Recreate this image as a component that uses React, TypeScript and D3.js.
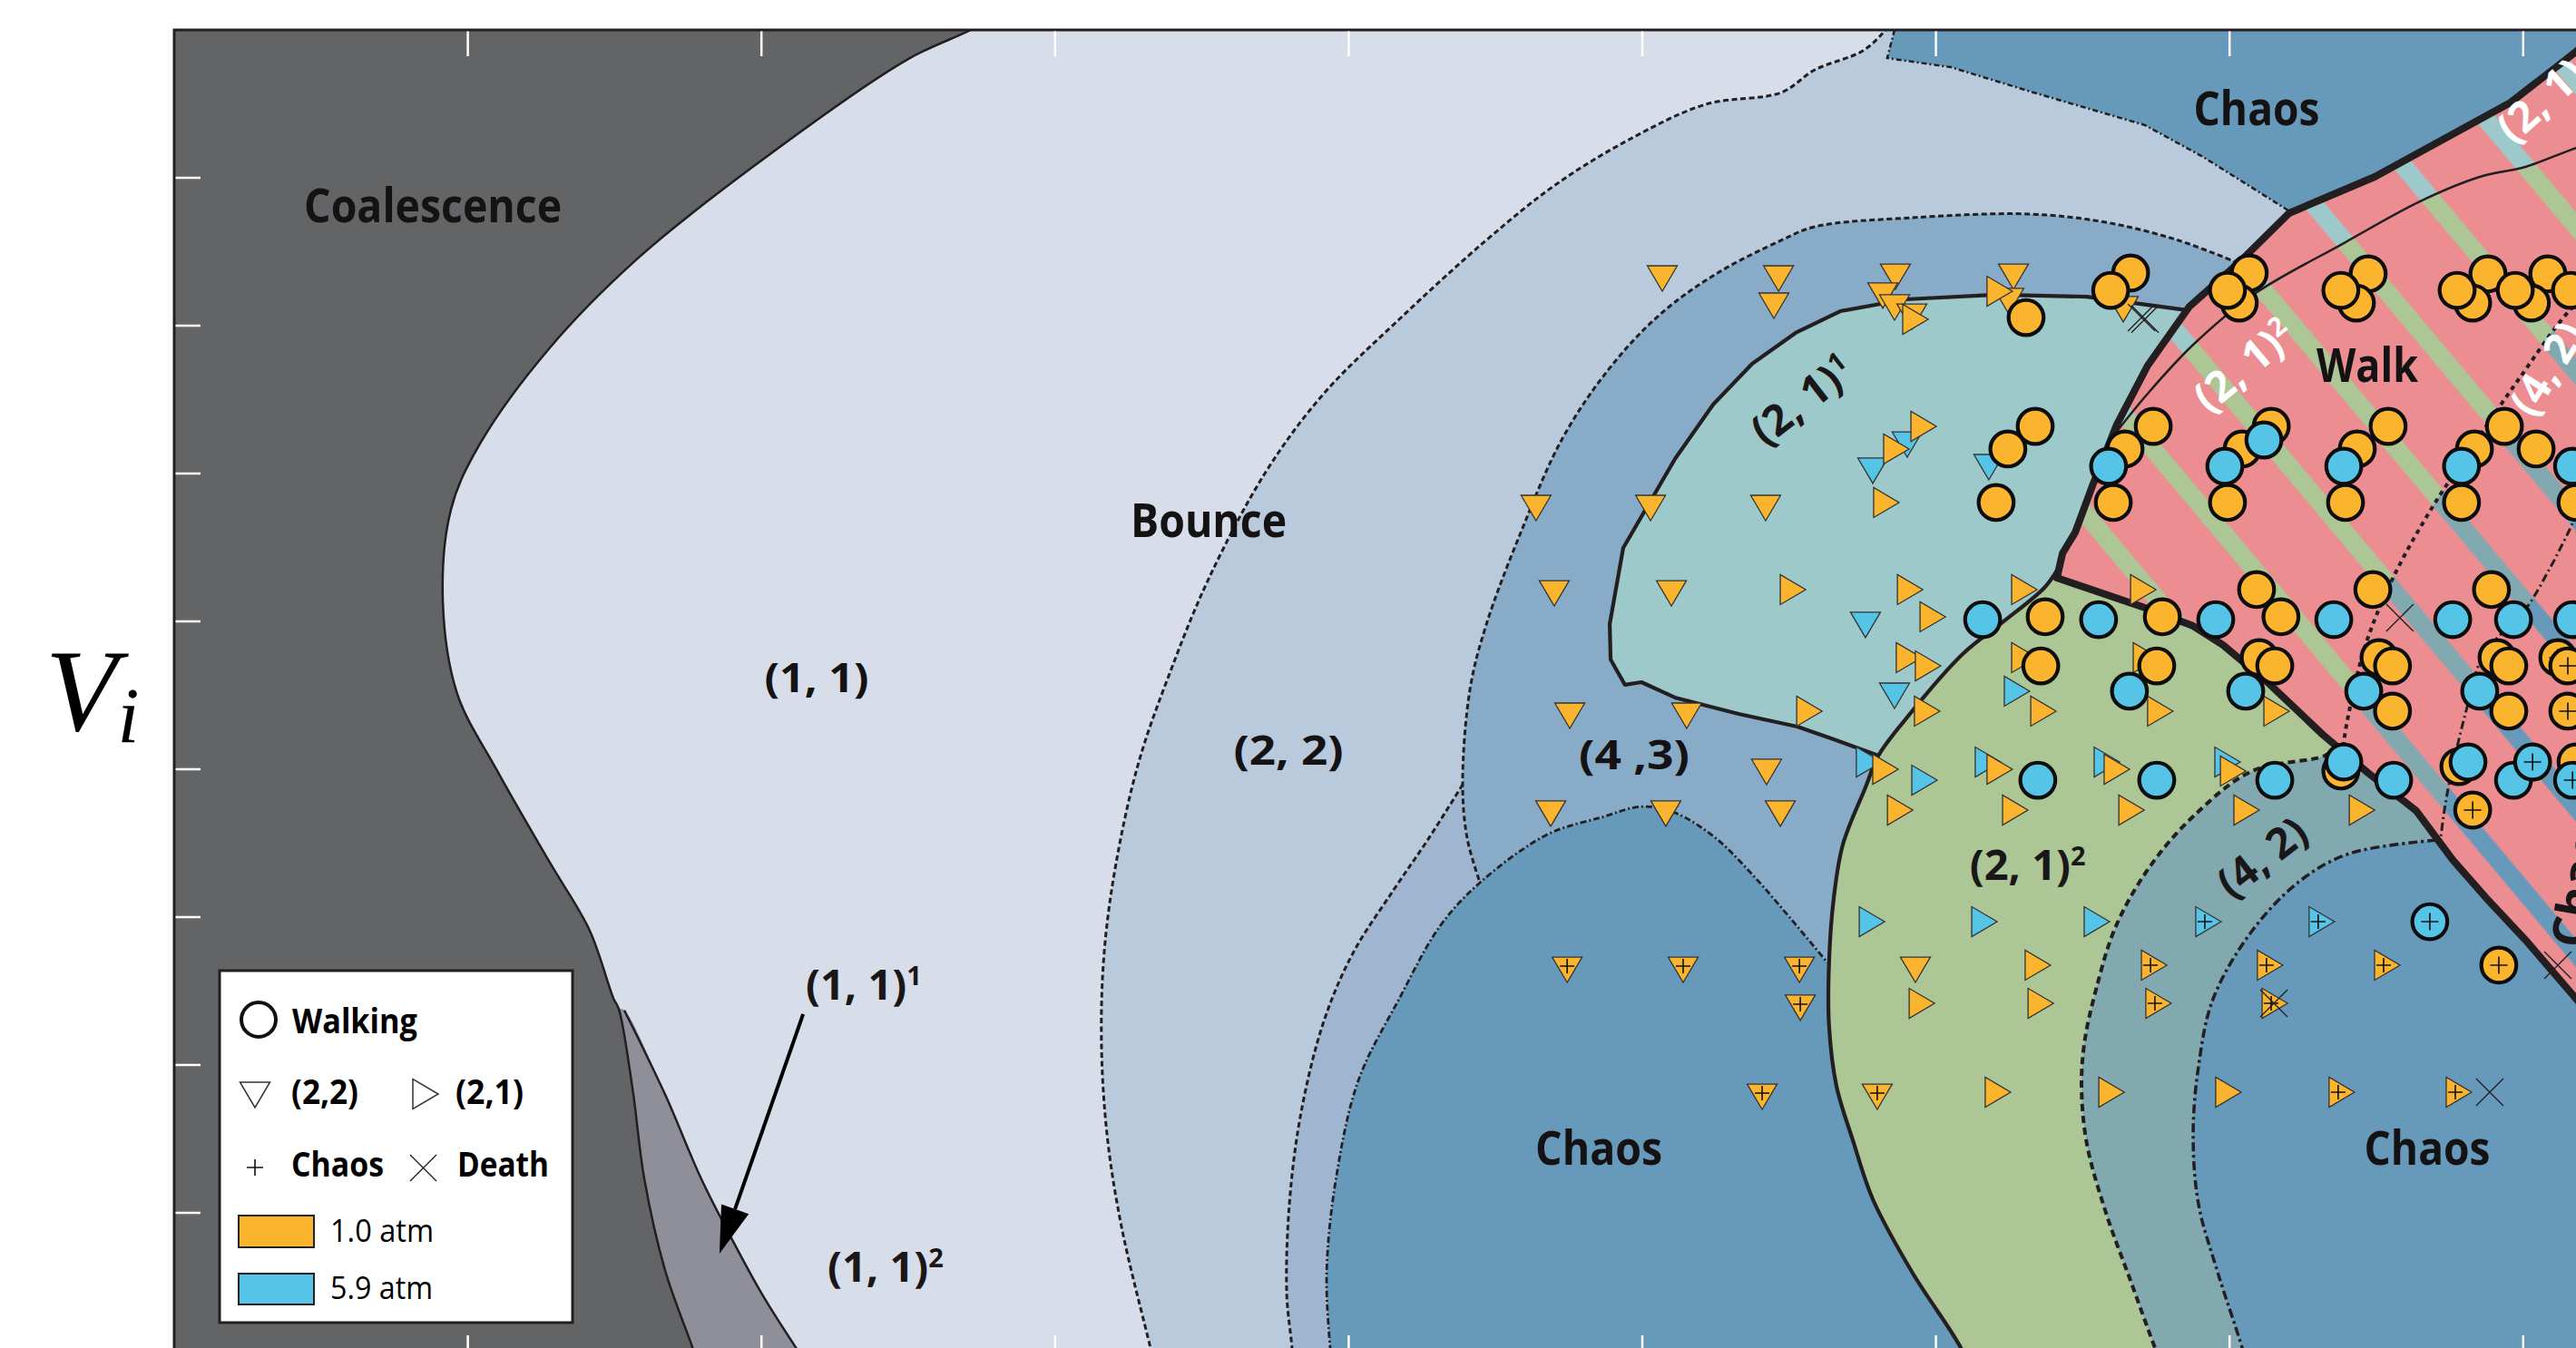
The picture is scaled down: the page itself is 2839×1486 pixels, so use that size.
import React from "react";
import * as d3 from "d3";

type Pt = [number, number];

// ---------------- data (axis units: one x tick = 1, one y tick = 1) ----------------
const xTicks = [1, 2, 3, 4, 5, 6, 7, 8];
const yTicks = [1, 2, 3, 4, 5, 6, 7, 8];

const coalescenceEdge: Pt[] = [[2.85, 9.15], [2.713, 9.0], [2.497, 8.8], [1.968, 8.07], [1.576, 7.45], [1.279, 6.85], [1.041, 6.2], [0.943, 5.76], [0.915, 5.13], [0.964, 4.51], [1.1, 3.99], [1.279, 3.37], [1.415, 2.91], [1.496, 2.45], [1.514, 2.38], [1.561, 1.84], [1.601, 1.23], [1.672, 0.61], [1.765, 0.09], [1.8, -0.12]];
const oneOneSupEdge: Pt[] = [[1.514, 2.38], [1.533, 2.37], [1.672, 1.8], [1.795, 1.23], [1.9, 0.82], [2.002, 0.45], [2.117, 0.09], [2.19, -0.12]];
const twoTwoEdge: Pt[] = [[5.87, 9.12], [5.828, 9.0], [5.751, 8.859], [5.587, 8.73], [5.473, 8.577], [5.216, 8.497], [4.96, 8.264], [4.703, 7.951], [4.468, 7.577], [4.172, 7.043], [3.915, 6.54], [3.718, 6.012], [3.523, 5.288], [3.393, 4.663], [3.285, 4.049], [3.208, 3.368], [3.167, 2.755], [3.158, 2.141], [3.177, 1.528], [3.226, 0.908], [3.325, 0.086], [3.35, -0.12]];
const fourThreeEdge: Pt[] = [[7.03, 7.423], [6.826, 7.577], [6.579, 7.699], [6.313, 7.755], [5.918, 7.73], [5.587, 7.669], [5.473, 7.577], [5.256, 7.356], [5.059, 7.074], [4.883, 6.699], [4.725, 6.227], [4.586, 5.601], [4.468, 4.975], [4.413, 4.54], [4.388, 3.896], [4.404, 3.528], [4.447, 3.233]];
const crescentEdge: Pt[] = [[4.388, 3.896], [4.271, 3.528], [4.153, 3.184], [4.014, 2.755], [3.915, 2.294], [3.838, 1.681], [3.798, 1.061], [3.789, 0.448], [3.807, 0.086], [3.813, -0.12]];
const chaosBlobEdge: Pt[] = [[3.949, -0.12], [3.937, 0.086], [3.925, 0.601], [3.956, 1.221], [4.033, 1.896], [4.172, 2.448], [4.311, 2.939], [4.447, 3.233], [4.676, 3.558], [4.861, 3.675], [5.0, 3.748], [5.111, 3.706], [5.25, 3.534], [5.38, 3.276], [5.501, 3.0], [5.63, 2.693]];
const tealEdge: Pt[] = [[6.86, 7.104], [6.514, 7.196], [6.205, 7.209], [5.896, 7.178], [5.674, 7.098], [5.522, 6.951], [5.374, 6.742], [5.241, 6.466], [5.111, 6.098], [4.935, 5.497], [4.889, 4.982], [4.892, 4.742], [4.941, 4.571], [4.997, 4.589], [5.111, 4.485], [5.328, 4.374], [5.528, 4.288], [5.652, 4.202], [5.804, 4.092]];
const greenEdge: Pt[] = [[6.412, 5.344], [6.369, 5.227], [6.227, 4.994], [6.091, 4.779], [5.896, 4.337], [5.804, 4.092], [5.76, 3.877], [5.683, 3.491], [5.652, 3.129], [5.636, 2.693], [5.636, 2.264], [5.661, 1.859], [5.717, 1.491], [5.785, 1.092], [5.918, 0.601], [6.085, 0.086], [6.128, -0.12]];
const fourTwoEdge: Pt[] = [[7.37, 4.16], [7.324, 4.092], [7.077, 3.988], [6.876, 3.681], [6.727, 3.337], [6.613, 2.939], [6.545, 2.509], [6.505, 2.141], [6.496, 1.834], [6.514, 1.466], [6.579, 1.0], [6.663, 0.54], [6.746, 0.086], [6.786, -0.12]];
const chaosRightEdge: Pt[] = [[7.704, 3.521], [7.407, 3.429], [7.24, 3.245], [7.077, 2.908], [6.944, 2.448], [6.894, 1.988], [6.876, 1.528], [6.894, 1.061], [6.959, 0.601], [7.043, 0.086], [7.07, -0.12]];
const chaosTopEdge: Pt[] = [[5.859, 9.15], [5.859, 9.0], [5.834, 8.81], [6.051, 8.748], [6.332, 8.577], [6.712, 8.356], [6.91, 8.141], [7.2, 7.779]];
const walkEdge: Pt[] = [[8.4, 9.3], [8.18, 8.853], [7.957, 8.509], [7.494, 8.006], [7.203, 7.761], [7.03, 7.423], [6.863, 7.129], [6.721, 6.73], [6.616, 6.331], [6.536, 5.933], [6.474, 5.601], [6.431, 5.46], [6.412, 5.294], [6.721, 5.086], [6.876, 4.969], [6.978, 4.84], [7.132, 4.583], [7.318, 4.233], [7.472, 3.975], [7.636, 3.718], [7.76, 3.387], [7.874, 3.129], [8.007, 2.847], [8.18, 2.448], [8.368, 2.025]];
const walkTealLine: Pt[] = [[6.598, 6.239], [6.721, 6.54], [6.876, 6.871], [7.08, 7.209], [7.389, 7.558], [7.648, 7.84], [7.852, 8.006], [8.007, 8.074], [8.18, 8.202], [8.4, 8.35]];
const walkGreenLine: Pt[] = [[8.3, 7.3], [8.18, 7.147], [7.985, 6.638], [7.812, 6.135], [7.689, 5.767], [7.555, 5.288], [7.463, 4.84], [7.41, 4.417], [7.389, 4.184], [7.38, 4.0]];
const walkChaosLine: Pt[] = [[8.3, 6.0], [8.18, 5.706], [8.152, 5.595], [8.09, 5.356], [8.007, 5.08], [7.865, 4.773], [7.803, 4.374], [7.741, 3.834], [7.719, 3.528], [7.71, 3.3]];

// markers: [x, y]
const downOrange: Pt[] = [[5.068, 7.325], [5.464, 7.325], [5.448, 7.141], [5.862, 7.337], [5.819, 7.209], [5.859, 7.129], [5.918, 7.067], [6.264, 7.337], [6.248, 7.172], [6.638, 7.117], [4.638, 5.773], [5.028, 5.773], [5.42, 5.773], [4.7, 5.196], [5.099, 5.196], [4.753, 4.368], [5.151, 4.368], [5.423, 3.988], [4.688, 3.706], [5.08, 3.706], [5.47, 3.706], [5.93, 2.65]];
const downOrangeChaos: Pt[] = [[4.744, 2.65], [5.139, 2.65], [5.535, 2.65], [5.538, 2.393], [5.408, 1.791], [5.8, 1.791]];
const downCyan: Pt[] = [[5.902, 6.202], [5.785, 6.025], [6.18, 6.049], [5.76, 4.982], [5.859, 4.503]];
const rightOrange: Pt[] = [[5.927, 7.043], [6.214, 7.233], [5.955, 6.319], [5.862, 6.166], [5.828, 5.804], [5.51, 5.215], [5.909, 5.215], [5.986, 5.031], [5.905, 4.755], [5.97, 4.699], [5.566, 4.393], [5.967, 4.393], [5.825, 4.0], [5.875, 3.724], [5.949, 2.417], [6.298, 5.215], [6.703, 5.215], [6.298, 4.755], [6.712, 4.755], [6.363, 4.393], [6.761, 4.393], [7.157, 4.393], [6.214, 4.0], [6.613, 4.0], [7.009, 3.988], [6.267, 3.724], [6.663, 3.724], [7.055, 3.724], [7.448, 3.724], [6.344, 2.675], [6.354, 2.417], [6.208, 1.816], [6.595, 1.816], [6.993, 1.816]];
const rightOrangeChaos: Pt[] = [[6.74, 2.675], [7.135, 2.675], [7.534, 2.675], [6.755, 2.417], [7.151, 2.417], [7.379, 1.816], [7.778, 1.816]];
const rightCyan: Pt[] = [[5.769, 4.049], [5.958, 3.926], [6.174, 4.049], [6.579, 4.049], [6.99, 4.049], [6.273, 4.528], [5.779, 2.969], [6.162, 2.969], [6.545, 2.969]];
const rightCyanChaos: Pt[] = [[6.925, 2.969], [7.311, 2.969]];
const circleOrange: Pt[] = [[6.307, 7.055], [6.663, 7.356], [6.595, 7.239], [7.067, 7.356], [7.033, 7.153], [6.993, 7.239], [7.472, 7.35], [7.432, 7.153], [7.379, 7.239], [7.88, 7.35], [7.828, 7.153], [7.775, 7.239], [8.084, 7.35], [8.028, 7.153], [7.973, 7.239], [8.161, 7.239], [6.338, 6.319], [6.245, 6.166], [6.205, 5.804], [6.74, 6.319], [6.644, 6.166], [6.604, 5.804], [7.142, 6.319], [7.043, 6.166], [6.993, 5.804], [7.54, 6.319], [7.435, 6.166], [7.395, 5.804], [7.936, 6.319], [7.834, 6.166], [8.044, 6.166], [7.79, 5.804], [8.18, 5.804], [6.372, 5.031], [6.771, 5.031], [7.092, 5.215], [7.175, 5.031], [7.488, 5.215], [7.892, 5.215], [6.357, 4.699], [6.752, 4.699], [7.101, 4.755], [7.154, 4.699], [7.509, 4.755], [7.555, 4.699], [7.555, 4.393], [7.911, 4.755], [7.951, 4.699], [7.951, 4.393], [7.379, 3.988], [7.781, 4.018], [8.18, 4.049]];
const circleOrangeChaos: Pt[] = [[8.118, 4.755], [8.152, 4.699], [8.152, 4.393], [7.828, 3.724], [7.917, 2.675]];
const circleCyan: Pt[] = [[7.117, 6.227], [6.984, 6.049], [6.588, 6.049], [7.389, 6.049], [7.79, 6.049], [8.168, 6.049], [6.159, 5.012], [6.554, 5.012], [6.953, 5.012], [7.355, 5.012], [7.76, 5.012], [7.967, 5.012], [8.168, 5.012], [6.659, 4.528], [7.055, 4.528], [7.457, 4.528], [7.852, 4.528], [6.347, 3.926], [6.752, 3.926], [7.154, 3.926], [7.389, 4.049], [7.559, 3.926], [7.812, 4.049], [7.967, 3.926]];
const circleCyanChaos: Pt[] = [[8.032, 4.049], [8.168, 3.926], [7.682, 2.969]];
const deaths: Pt[] = [[6.7, 7.055], [6.712, 7.045], [7.58, 5.025], [7.151, 2.417], [8.118, 2.675], [7.886, 1.816]];

// labels
const plainLabels: { text: string; at: Pt; w: number }[] = [
  { text: "Coalescence", at: [0.881, 7.699], w: 284 },
  { text: "Bounce", at: [3.523, 5.571], w: 172 },
  { text: "(1, 1)", at: [2.188, 4.521], w: 115 },
  { text: "(2, 2)", at: [3.795, 4.031], w: 121 },
  { text: "(4 ,3)", at: [4.972, 4.0], w: 122 },
  { text: "Chaos", at: [4.852, 1.325], w: 140 },
  { text: "Chaos", at: [7.673, 1.325], w: 139 },
  { text: "Chaos", at: [7.092, 8.356], w: 139 },
  { text: "Walk", at: [7.469, 6.62], w: 112 },
];
const supLabels: { base: string; sup: string; at: Pt; rot: number; white: boolean; anchor: string }[] = [
  { base: "(1, 1)", sup: "1", at: [2.151, 2.442], rot: 0, white: false, anchor: "start" },
  { base: "(1, 1)", sup: "2", at: [2.225, 0.534], rot: 0, white: false, anchor: "start" },
  { base: "(2, 1)", sup: "2", at: [6.115, 3.252], rot: 0, white: false, anchor: "start" },
  { base: "(2, 1)", sup: "1", at: [5.544, 6.497], rot: -38, white: false, anchor: "middle" },
  { base: "(4, 2)", sup: "", at: [7.111, 3.405], rot: -38, white: false, anchor: "middle" },
  { base: "(2, 1)", sup: "2", at: [7.049, 6.73], rot: -40, white: true, anchor: "middle" },
  { base: "(2, 1)", sup: "", at: [7.967, 8.221], rot: -42, white: true, anchor: "start" },
  { base: "(4, 2)", sup: "", at: [8.034, 6.368], rot: -58, white: true, anchor: "start" },
  { base: "Chaos", sup: "", at: [8.205, 2.78], rot: -80, white: false, anchor: "start" },
];
const arrowFromTo: Pt[] = [[2.142, 2.344], [1.857, 0.724]];

// ---------------- scales & helpers ----------------
const W = 2839, H = 1486;
const x = d3.scaleLinear().domain([0, 1]).range([192, 515.6]);
const y = d3.scaleLinear().domain([0, 9]).range([1500, 33]);
const smoothGen = d3.line<Pt>().x(d => x(d[0])).y(d => y(d[1])).curve(d3.curveCatmullRom.alpha(0.5));
const linGen = d3.line<Pt>().x(d => x(d[0])).y(d => y(d[1]));
const shape = (...segs: [Pt[], boolean][]) =>
  segs.map(([pts, sm], i) => { const s = (sm ? smoothGen : linGen)(pts) || ""; return i === 0 ? s : "L" + s.slice(1); }).join("") + "Z";

const C = {
  coal: "#636466", oneOne: "#d7deea", oneOneSup: "#8e8f99", twoTwo: "#b9cadc", fourThree: "#88abc8",
  crescent: "#a0b6d0", chaos: "#6799bb", teal: "#9ec9ca", green: "#acc795", fourTwo: "#82a8b0",
  pink: "#ec8e91", orange: "#fbb42e", cyan: "#56c4e6", ink: "#231f20",
};
const FONT = "'Open Sans', 'DejaVu Sans', sans-serif";
const DOWN = "M-16.5,-13L16.5,-13L0,15Z";
const RIGHT = "M-13,-16.5L-13,16.5L15,0Z";

function Plus({ cx, cy, s = 9 }: { cx: number; cy: number; s?: number }) {
  return <path d={`M${cx - s},${cy}H${cx + s}M${cx},${cy - s}V${cy + s}`} stroke="#111" strokeWidth={1.6} fill="none" />;
}

export default function App() {
  const xr = x(8.3);
  const walkPoly = shape([walkEdge, false], [[[9.5, 1.0], [9.5, 9.4], [8.4, 9.4]], false]);

  const tri = (pts: Pt[], d: string, fill: string, plus: boolean, key: string, dx: number, dy: number) =>
    pts.map((p, i) => (
      <g key={key + i} transform={`translate(${x(p[0])},${y(p[1])})`}>
        <path d={d} fill={fill} stroke="#333" strokeWidth={1.3} />
        {plus && <Plus cx={dx} cy={dy} s={8} />}
      </g>
    ));
  const circ = (pts: Pt[], fill: string, plus: boolean, key: string) =>
    pts.map((p, i) => (
      <g key={key + i}>
        <circle cx={x(p[0])} cy={y(p[1])} r={19.3} fill={fill} stroke="#0d0d0d" strokeWidth={4.2} />
        {plus && <Plus cx={x(p[0])} cy={y(p[1])} s={9.5} />}
      </g>
    ));

  const [a0, a1] = arrowFromTo;
  const ax0 = x(a0[0]), ay0 = y(a0[1]), ax1 = x(a1[0]), ay1 = y(a1[1]);
  const ang = Math.atan2(ay1 - ay0, ax1 - ax0);
  const hl = 52, hw = 16;
  const bx = ax1 - hl * Math.cos(ang), by = ay1 - hl * Math.sin(ang);
  const head = `M${ax1},${ay1}L${bx + hw * Math.sin(ang)},${by - hw * Math.cos(ang)}L${bx - hw * Math.sin(ang)},${by + hw * Math.cos(ang)}Z`;

  return (
    <svg width={W} height={H} style={{ position: "absolute", left: 0, top: 0, display: "block", background: "#fff" }}>
      <defs>
        <clipPath id="plot"><rect x={192} y={33} width={xr - 192} height={1467} /></clipPath>
        <clipPath id="walkClip"><path d={walkPoly} /></clipPath>
        <pattern id="stripes" patternUnits="userSpaceOnUse" width={103} height={103} patternTransform="rotate(-40)">
          <rect x={0} y={0} width={47.5} height={103} fill={C.pink} />
          <rect x={67.5} y={0} width={35.5} height={103} fill={C.pink} />
        </pattern>
      </defs>

      <g clipPath="url(#plot)">
        <rect x={192} y={33} width={xr - 192} height={1467} fill={C.coal} />
        <path d={shape([coalescenceEdge, true], [[[1.8, -0.4], [9.5, -0.4], [9.5, 9.4], [2.85, 9.4]], false])} fill={C.oneOne} />
        <path d={shape([coalescenceEdge.slice(14), true], [[[1.8, -0.4], [2.19, -0.4]], false], [[...oneOneSupEdge].reverse(), true])} fill={C.oneOneSup} />
        <path d={shape([twoTwoEdge, true], [[[3.35, -0.4], [9.5, -0.4], [9.5, 9.4], [5.87, 9.4]], false])} fill={C.twoTwo} />
        <path d={shape([fourThreeEdge, true], [chaosBlobEdge.slice(7), true], [[[5.9, 2.0], [9.5, 2.0], [9.5, 7.423]], false])} fill={C.fourThree} />
        <path d={shape([crescentEdge, true], [[[3.813, -0.4], [4.6, -0.4], [4.447, 3.233], [4.404, 3.528]], false])} fill={C.crescent} />
        <path d={shape([chaosBlobEdge, true], [[[5.7, 2.264], [6.2, -0.4], [3.949, -0.4]], false])} fill={C.chaos} />
        <path d={shape([tealEdge, false], [[[6.3, 4.5], [7.0, 6.0]], false])} fill={C.teal} />
        <path d={shape([greenEdge, true], [[[6.15, -0.4], [7.5, -0.4], [7.5, 5.4], [6.5, 5.4]], false])} fill={C.green} />
        <path d={shape([fourTwoEdge, true], [[[6.8, -0.4], [9.5, -0.4], [9.5, 4.6], [7.45, 4.6]], false])} fill={C.fourTwo} />
        <path d={shape([[[7.74, 3.7]], false], [chaosRightEdge, true], [[[7.1, -0.4], [9.5, -0.4], [9.5, 3.7]], false])} fill={C.chaos} />
        <path d={shape([chaosTopEdge, false], [[[7.5, 7.0], [9.5, 7.0], [9.5, 9.4], [5.859, 9.4]], false])} fill={C.chaos} />

        {/* walk region with striped sub-zones */}
        <g clipPath="url(#walkClip)">
          <path d={walkPoly} fill={C.chaos} />
          <path d={shape([walkChaosLine, true], [[[6.0, 3.3], [6.0, 9.5], [8.5, 9.5], [8.5, 6.0]], false])} fill={C.fourTwo} />
          <path d={shape([walkGreenLine, true], [[[6.0, 4.0], [6.0, 9.5], [8.5, 9.5], [8.5, 7.3]], false])} fill={C.green} />
          <path d={shape([[[6.4, 6.0]], false], [walkTealLine, true], [[[8.5, 9.5], [6.4, 9.5]], false])} fill={C.teal} />
          <path d={walkPoly} fill="url(#stripes)" />
          <path d={smoothGen(walkTealLine) || ""} fill="none" stroke={C.ink} strokeWidth={2.5} />
          <path d={smoothGen(walkGreenLine) || ""} fill="none" stroke={C.ink} strokeWidth={4} strokeDasharray="5 5" />
          <path d={smoothGen(walkChaosLine) || ""} fill="none" stroke={C.ink} strokeWidth={3} strokeDasharray="9 4 2 4" />
        </g>

        {/* boundaries */}
        <path d={smoothGen(coalescenceEdge) || ""} fill="none" stroke={C.ink} strokeWidth={2.5} />
        <path d={smoothGen(oneOneSupEdge.slice(1)) || ""} fill="none" stroke={C.ink} strokeWidth={2.5} />
        <path d={smoothGen(twoTwoEdge) || ""} fill="none" stroke={C.ink} strokeWidth={3} strokeDasharray="6 3.5" />
        <path d={smoothGen(fourThreeEdge) || ""} fill="none" stroke={C.ink} strokeWidth={3} strokeDasharray="6 3.5" />
        <path d={smoothGen(crescentEdge) || ""} fill="none" stroke={C.ink} strokeWidth={3} strokeDasharray="6 3.5" />
        <path d={smoothGen(chaosBlobEdge) || ""} fill="none" stroke={C.ink} strokeWidth={2.8} strokeDasharray="7 3 2 3" />
        <path d={linGen(tealEdge) || ""} fill="none" stroke={C.ink} strokeWidth={4.2} strokeLinejoin="round" />
        <path d={smoothGen(greenEdge) || ""} fill="none" stroke={C.ink} strokeWidth={4.2} />
        <path d={smoothGen(fourTwoEdge) || ""} fill="none" stroke={C.ink} strokeWidth={4} strokeDasharray="8 5" />
        <path d={smoothGen(chaosRightEdge) || ""} fill="none" stroke={C.ink} strokeWidth={3.5} strokeDasharray="10 4 3 4" />
        <path d={linGen(chaosTopEdge.slice(1)) || ""} fill="none" stroke={C.ink} strokeWidth={2.5} strokeDasharray="6 3 2 3" />
        <path d={linGen(walkEdge) || ""} fill="none" stroke={C.ink} strokeWidth={8} strokeLinejoin="round" />

        {/* markers */}
        {tri(downCyan, DOWN, C.cyan, false, "dc", 0, 0)}
        {tri(rightCyan, RIGHT, C.cyan, false, "rc", 0, 0)}
        {tri(rightCyanChaos, RIGHT, C.cyan, true, "rcc", -3, 0)}
        {tri(downOrange, DOWN, C.orange, false, "do", 0, 0)}
        {tri(downOrangeChaos, DOWN, C.orange, true, "doc", 0, -3)}
        {tri(rightOrange, RIGHT, C.orange, false, "ro", 0, 0)}
        {tri(rightOrangeChaos, RIGHT, C.orange, true, "roc", -3, 0)}
        {circ(circleOrange, C.orange, false, "co")}
        {circ(circleOrangeChaos, C.orange, true, "coc")}
        {circ(circleCyan, C.cyan, false, "cc")}
        {circ(circleCyanChaos, C.cyan, true, "ccc")}
        {deaths.map((p, i) => {
          const cx = x(p[0]), cy = y(p[1]);
          return <path key={"d" + i} d={`M${cx - 15},${cy - 15}L${cx + 15},${cy + 15}M${cx + 15},${cy - 15}L${cx - 15},${cy + 15}`} stroke="#222" strokeWidth={1.4} />;
        })}

        {/* labels */}
        {plainLabels.map((l, i) => (
          <text key={"pl" + i} x={x(l.at[0])} y={y(l.at[1])} textAnchor="middle" fontFamily={FONT} fontWeight={700}
            fontSize={l.text.startsWith("(") ? 44 : 52} textLength={l.w} lengthAdjust="spacingAndGlyphs" fill="#141213">{l.text}</text>
        ))}
        {supLabels.map((l, i) => (
          <text key={"sl" + i} transform={`translate(${x(l.at[0])},${y(l.at[1])}) rotate(${l.rot})`} textAnchor={l.anchor}
            dy={l.anchor === "middle" ? "0.35em" : 0} fontFamily={FONT} fontWeight={700} fontSize={l.base === "Chaos" ? 52 : 47}
            fill={l.white ? "#ffffff" : "#1a1718"}>
            {l.base}
            {l.sup && <tspan dy="-0.55em" fontSize={29}>{l.sup}</tspan>}
          </text>
        ))}

        {/* arrow */}
        <line x1={ax0} y1={ay0} x2={bx} y2={by} stroke="#000" strokeWidth={4} />
        <path d={head} fill="#000" />
      </g>

      {/* frame and ticks */}
      <rect x={192} y={33} width={xr - 192} height={1467} fill="none" stroke={C.ink} strokeWidth={3} />
      {xTicks.map(t => (
        <g key={"xt" + t}>
          <line x1={x(t)} x2={x(t)} y1={34.5} y2={62} stroke="#fff" strokeWidth={2.5} />
          <line x1={x(t)} x2={x(t)} y1={1472} y2={1498.5} stroke="#fff" strokeWidth={2.5} />
        </g>
      ))}
      {yTicks.map(t => (
        <line key={"yt" + t} x1={193.5} x2={221} y1={y(t)} y2={y(t)} stroke="#fff" strokeWidth={2.5} />
      ))}

      {/* legend */}
      <g fontFamily={FONT}>
        <rect x={242} y={1070} width={389} height={388} fill="#fff" stroke={C.ink} strokeWidth={3} />
        <circle cx={285} cy={1124} r={19} fill="#fff" stroke="#111" strokeWidth={4} />
        <text x={322} y={1139} fontWeight={700} fontSize={38} textLength={138} lengthAdjust="spacingAndGlyphs">Walking</text>
        <path d={DOWN} transform="translate(281,1206)" fill="#fff" stroke="#333" strokeWidth={1.5} />
        <text x={321} y={1217} fontWeight={700} fontSize={38} textLength={74} lengthAdjust="spacingAndGlyphs">(2,2)</text>
        <path d={RIGHT} transform="translate(468,1206)" fill="#fff" stroke="#333" strokeWidth={1.5} />
        <text x={502} y={1217} fontWeight={700} fontSize={38} textLength={75} lengthAdjust="spacingAndGlyphs">(2,1)</text>
        <Plus cx={281} cy={1287} s={9} />
        <text x={321} y={1297} fontWeight={700} fontSize={38} textLength={102} lengthAdjust="spacingAndGlyphs">Chaos</text>
        <path d="M452,1273L481,1302M481,1273L452,1302" stroke="#222" strokeWidth={1.4} />
        <text x={504} y={1297} fontWeight={700} fontSize={38} textLength={101} lengthAdjust="spacingAndGlyphs">Death</text>
        <rect x={263} y={1340} width={83} height={35} fill={C.orange} stroke="#222" strokeWidth={2} />
        <text x={364} y={1369} fontSize={35} textLength={114} lengthAdjust="spacingAndGlyphs">1.0 atm</text>
        <rect x={263} y={1404} width={83} height={34} fill={C.cyan} stroke="#222" strokeWidth={2} />
        <text x={364} y={1432} fontSize={35} textLength={113} lengthAdjust="spacingAndGlyphs">5.9 atm</text>
      </g>

      {/* axis label */}
      <text x={50} y={805} fontFamily="'Liberation Serif', 'DejaVu Serif', serif" fontStyle="italic" fontSize={130}>
        V<tspan dy={13} fontSize={86}>i</tspan>
      </text>
    </svg>
  );
}
